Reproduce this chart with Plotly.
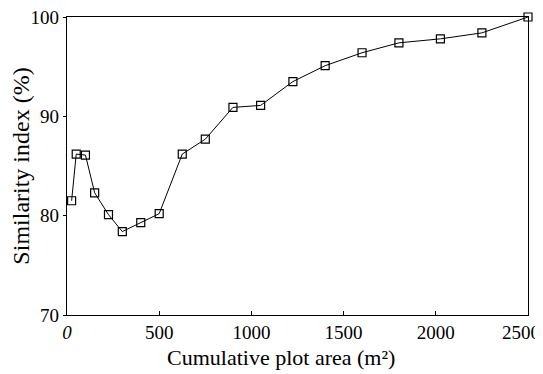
import plotly.graph_objects as go

area = [25, 50, 100, 150, 225, 300, 400, 500, 625, 750, 900, 1050, 1225, 1400, 1600, 1800, 2025, 2250, 2500]
similarity = [81.5, 86.2, 86.1, 82.3, 80.1, 78.4, 79.3, 80.2, 86.2, 87.7, 90.9, 91.1, 93.5, 95.1, 96.4, 97.4, 97.8, 98.4, 100.0]

x_ticks = [0, 500, 1000, 1500, 2000, 2500]
x_tick_labels = ["<i>0</i>", "500", "1000", "1500", "2000", "2500"]
y_ticks = [70, 80, 90, 100]
y_tick_labels = ["70", "80", "90", "100"]

font = "Liberation Serif, Times New Roman, serif"

fig = go.Figure(go.Scatter(
    x=area, y=similarity, mode="lines+markers",
    line=dict(color="black", width=1),
    marker=dict(symbol="square-open", size=8, color="black", line=dict(width=1.2, color="black")),
    cliponaxis=False,
))

# last x tick label is nudged left (as in the reference) so it stays inside the picture
axis_labels = list(x_tick_labels[:-1]) + [""]
annotations = [
    dict(text="Cumulative plot area (m²)", xref="paper", yref="paper",
         x=0.464, y=-0.142, xanchor="center", yanchor="middle",
         showarrow=False, font=dict(size=22)),
    dict(text=x_tick_labels[-1], xref="x", yref="paper",
         x=x_ticks[-1], y=0, xanchor="center", yanchor="middle",
         xshift=-7, yshift=-17, showarrow=False, font=dict(size=19)),
]

# page body has an 8px margin, so offset plot margins accordingly
fig.update_layout(
    width=543, height=374,
    margin=dict(l=59, r=23, t=9, b=67),
    plot_bgcolor="white", paper_bgcolor="white",
    showlegend=False,
    font=dict(family=font, size=18, color="black"),
    annotations=annotations,
)
fig.update_xaxes(
    range=[0, 2500], tickvals=x_ticks, ticktext=axis_labels, ticks="inside", ticklen=4, tickcolor="black",
    showline=True, linecolor="black", linewidth=1.2, mirror=True, showgrid=False, zeroline=False,
    tickfont=dict(size=19), automargin=False, ticklabeloverflow="allow",
)
fig.update_yaxes(
    range=[70, 100], tickvals=y_ticks, ticktext=y_tick_labels, ticks="outside", ticklen=3, tickcolor="black",
    showline=True, linecolor="black", linewidth=1.2, mirror=True, showgrid=False, zeroline=False,
    title=dict(text="Similarity index (%)", font=dict(size=24), standoff=6),
    tickfont=dict(size=19), automargin=False, ticklabeloverflow="allow",
)

fig.write_html("out.html")
